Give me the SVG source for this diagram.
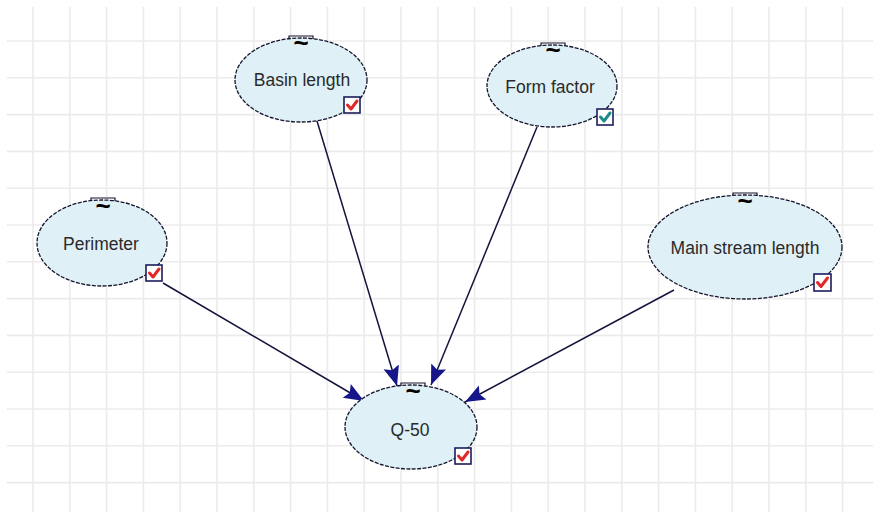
<svg xmlns="http://www.w3.org/2000/svg" width="873" height="520" viewBox="0 0 873 520">
  <style>
    .grid line { stroke: #ebebeb; stroke-width: 1.6; }
    .node ellipse { fill: #dff0f6; stroke: #14142e; stroke-width: 1.3; stroke-dasharray: 4 1.4; }
    .tab { fill: none; stroke: #14142e; stroke-width: 1.2; }
    .tilde { font-family: "Liberation Sans", Arial, sans-serif; font-size: 26px; font-weight: bold; fill: #000; text-anchor: middle; }
    .label { font-family: "Liberation Sans", Arial, sans-serif; font-size: 17.5px; fill: #2a2a2a; text-anchor: middle; }
    .box { fill: #ffffff; stroke: #1c1c5c; stroke-width: 1.6; }
    .tick { fill: none; stroke: #e02828; stroke-width: 3; stroke-linecap: round; stroke-linejoin: round; }
    .tick.teal { stroke: #1f8a8a; }
    .edges line { stroke: #14143c; stroke-width: 1.5; }
  </style>
  <defs>
    <marker id="arrow" markerUnits="userSpaceOnUse" markerWidth="24" markerHeight="20" refX="20" refY="10" orient="auto">
      <path d="M0,2 L20,10 L0,18 L3.5,10 Z" fill="#16168a"/>
    </marker>
  </defs>

  <rect width="873" height="520" fill="#ffffff"/>

  <!-- background grid -->
  <g class="grid">
    <line x1="33" y1="7" x2="33" y2="512"/>
    <line x1="69.8" y1="7" x2="69.8" y2="512"/>
    <line x1="106.6" y1="7" x2="106.6" y2="512"/>
    <line x1="143.4" y1="7" x2="143.4" y2="512"/>
    <line x1="180.2" y1="7" x2="180.2" y2="512"/>
    <line x1="217" y1="7" x2="217" y2="512"/>
    <line x1="253.8" y1="7" x2="253.8" y2="512"/>
    <line x1="290.6" y1="7" x2="290.6" y2="512"/>
    <line x1="327.4" y1="7" x2="327.4" y2="512"/>
    <line x1="364.2" y1="7" x2="364.2" y2="512"/>
    <line x1="401" y1="7" x2="401" y2="512"/>
    <line x1="437.8" y1="7" x2="437.8" y2="512"/>
    <line x1="474.6" y1="7" x2="474.6" y2="512"/>
    <line x1="511.4" y1="7" x2="511.4" y2="512"/>
    <line x1="548.2" y1="7" x2="548.2" y2="512"/>
    <line x1="585" y1="7" x2="585" y2="512"/>
    <line x1="621.8" y1="7" x2="621.8" y2="512"/>
    <line x1="658.6" y1="7" x2="658.6" y2="512"/>
    <line x1="695.4" y1="7" x2="695.4" y2="512"/>
    <line x1="732.2" y1="7" x2="732.2" y2="512"/>
    <line x1="769" y1="7" x2="769" y2="512"/>
    <line x1="805.8" y1="7" x2="805.8" y2="512"/>
    <line x1="842.6" y1="7" x2="842.6" y2="512"/>
    <line x1="7" y1="41" x2="873" y2="41"/>
    <line x1="7" y1="77.8" x2="873" y2="77.8"/>
    <line x1="7" y1="114.6" x2="873" y2="114.6"/>
    <line x1="7" y1="151.4" x2="873" y2="151.4"/>
    <line x1="7" y1="188.2" x2="873" y2="188.2"/>
    <line x1="7" y1="225" x2="873" y2="225"/>
    <line x1="7" y1="261.8" x2="873" y2="261.8"/>
    <line x1="7" y1="298.6" x2="873" y2="298.6"/>
    <line x1="7" y1="335.4" x2="873" y2="335.4"/>
    <line x1="7" y1="372.2" x2="873" y2="372.2"/>
    <line x1="7" y1="409" x2="873" y2="409"/>
    <line x1="7" y1="445.8" x2="873" y2="445.8"/>
    <line x1="7" y1="482.6" x2="873" y2="482.6"/>
  </g>

  <!-- connectors -->
  <g class="edges" id="connectors">
    <line x1="163" y1="283" x2="364" y2="401" marker-end="url(#arrow)"/>
    <line x1="317" y1="121" x2="397" y2="386" marker-end="url(#arrow)"/>
    <line x1="537" y1="127" x2="431" y2="385" marker-end="url(#arrow)"/>
    <line x1="674" y1="290" x2="465" y2="402" marker-end="url(#arrow)"/>
  </g>

  <!-- nodes -->
  <g class="node" id="node-perimeter">
    <ellipse cx="102" cy="243" rx="65" ry="43"/>
    <path class="tab" d="M91,201 V198 H115 V201"/>
    <text class="tilde" x="103" y="215">~</text>
    <text class="label" x="101" y="250">Perimeter</text>
    <rect class="box" x="146" y="265" width="16" height="16"/>
    <path class="tick" d="M149.5,273 L153,277 L159,269"/>
  </g>

  <g class="node" id="node-basin-length">
    <ellipse cx="301" cy="80" rx="66" ry="42"/>
    <path class="tab" d="M289,39 V36 H313 V39"/>
    <text class="tilde" x="301" y="52">~</text>
    <text class="label" x="302" y="86">Basin length</text>
    <rect class="box" x="344" y="97" width="16" height="16"/>
    <path class="tick" d="M347.5,105 L351,109 L357,101"/>
  </g>

  <g class="node" id="node-form-factor">
    <ellipse cx="552" cy="86" rx="65" ry="41"/>
    <path class="tab" d="M541,46 V43 H565 V46"/>
    <text class="tilde" x="553" y="59">~</text>
    <text class="label" x="550" y="93">Form factor</text>
    <rect class="box" x="597" y="109" width="16" height="16"/>
    <path class="tick teal" d="M600.5,117 L604,121 L610,113"/>
  </g>

  <g class="node" id="node-main-stream-length">
    <ellipse cx="745" cy="247" rx="97" ry="52"/>
    <path class="tab" d="M733,196 V193 H757 V196"/>
    <text class="tilde" x="745" y="210">~</text>
    <text class="label" x="745" y="254">Main stream length</text>
    <rect class="box" x="814" y="274" width="17" height="17"/>
    <path class="tick" d="M817.5,282.5 L821,286.5 L827.5,278"/>
  </g>

  <g class="node" id="node-q50">
    <ellipse cx="411" cy="427" rx="66" ry="42"/>
    <path class="tab" d="M401,386 V383 H425 V386"/>
    <text class="tilde" x="413" y="400">~</text>
    <text class="label" x="410" y="436">Q-50</text>
    <rect class="box" x="455" y="448" width="16" height="16"/>
    <path class="tick" d="M458.5,456 L462,460 L468,452"/>
  </g>
</svg>
